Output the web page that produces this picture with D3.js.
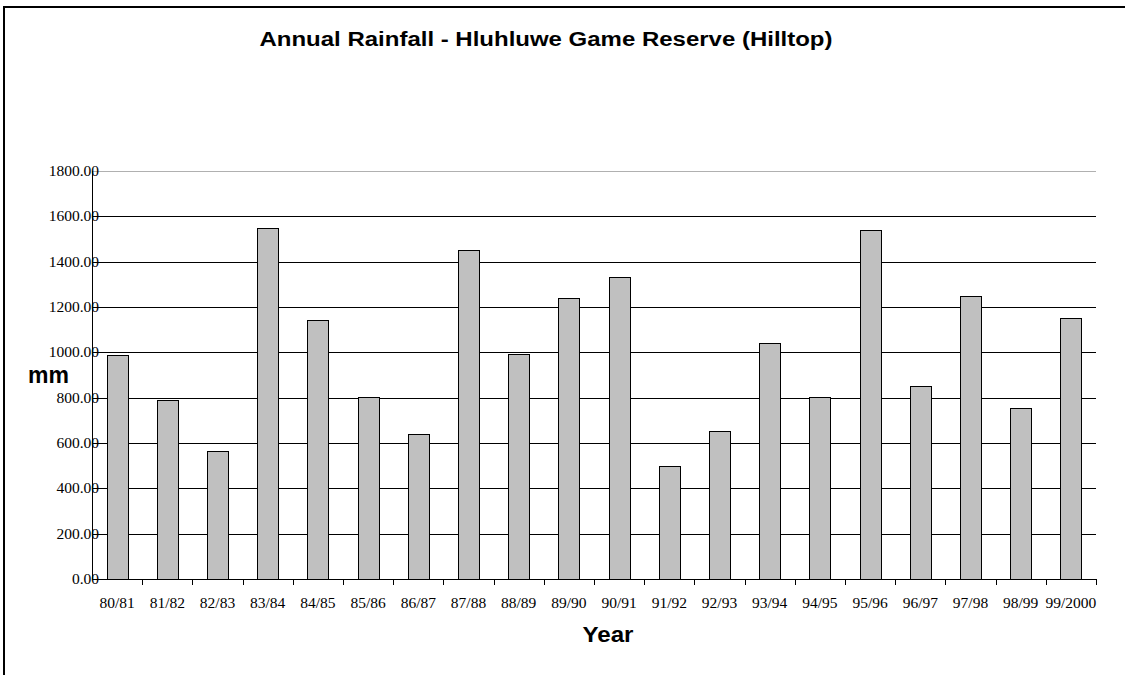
<!DOCTYPE html>
<html>
<head>
<meta charset="utf-8">
<script src="https://cdn.jsdelivr.net/npm/d3@7"></script>
<style>
  html, body { margin: 0; padding: 0; background: #fff; overflow: hidden; }
  svg { display: block; }
</style>
</head>
<body>
<svg id="chart" width="1125" height="675"></svg>
<script>
const categories = ["80/81","81/82","82/83","83/84","84/85","85/86","86/87","87/88","88/89","89/90",
                    "90/91","91/92","92/93","93/94","94/95","95/96","96/97","97/98","98/99","99/2000"];
const rainfall = [988, 790, 563, 1548, 1141, 801, 641, 1453, 993, 1238,
                  1331, 500, 654, 1043, 801, 1541, 850, 1250, 753, 1153];
const yTicks = [0, 200, 400, 600, 800, 1000, 1200, 1400, 1600, 1800];
const titleText = "Annual Rainfall - Hluhluwe Game Reserve (Hilltop)";
const xTitle = "Year";
const yTitle = "mm";

(function () {
const svg = d3.select("#chart");
const plotLeft = 92, plotRight = 1096, plotTop = 171, plotBottom = 579;

// outer frame
svg.append("rect").attr("x", 4).attr("y", 7).attr("width", 1200).attr("height", 800)
  .attr("fill", "none").attr("stroke", "#000").attr("stroke-width", 2);

const x = d3.scaleBand().domain(categories).range([plotLeft, plotRight])
  .paddingInner(0.58).paddingOuter(0.29);
const y = d3.scaleLinear().domain([0, 1800]).range([plotBottom, plotTop]);

// gridlines
svg.append("g").selectAll("line").data(yTicks.filter(d => d > 0)).join("line")
  .attr("x1", plotLeft).attr("x2", plotRight)
  .attr("y1", d => Math.round(y(d)) + 0.5).attr("y2", d => Math.round(y(d)) + 0.5)
  .attr("stroke", d => d === 1800 ? "#b0b0b0" : "#000").attr("stroke-width", 1);

// bars
svg.append("g").selectAll("rect").data(categories).join("rect")
  .attr("x", d => Math.round(x(d)) + 0.5)
  .attr("y", (d, i) => Math.round(y(rainfall[i])) + 0.5)
  .attr("width", Math.round(x.bandwidth()))
  .attr("height", (d, i) => Math.round(y(0)) - Math.round(y(rainfall[i])))
  .attr("fill", "#c0c0c0").attr("stroke", "#000").attr("stroke-width", 1);

// x axis line and ticks
const step = x.step();
svg.append("line").attr("x1", plotLeft).attr("x2", plotRight)
  .attr("y1", Math.round(y(0)) + 0.5).attr("y2", Math.round(y(0)) + 0.5)
  .attr("stroke", "#000").attr("stroke-width", 1);
svg.append("g").selectAll("line").data(d3.range(1, categories.length + 1)).join("line")
  .attr("x1", i => Math.round(plotLeft + i * step) + 0.5).attr("x2", i => Math.round(plotLeft + i * step) + 0.5)
  .attr("y1", Math.round(y(0))).attr("y2", Math.round(y(0)) + 6)
  .attr("stroke", "#000").attr("stroke-width", 1);

// y axis line
svg.append("line").attr("x1", plotLeft + 0.5).attr("x2", plotLeft + 0.5)
  .attr("y1", plotTop).attr("y2", plotBottom + 1)
  .attr("stroke", "#000").attr("stroke-width", 1);

// y tick labels
svg.append("g").selectAll("text").data(yTicks).join("text")
  .attr("x", 99).attr("y", d => y(d)).attr("dy", "0.33em")
  .attr("text-anchor", "end")
  .attr("font-family", "'Liberation Serif', 'Times New Roman', serif")
  .attr("font-size", "15.5px").attr("fill", "#000")
  .text(d => d3.format(".2f")(d));

// x tick labels
svg.append("g").selectAll("text").data(categories).join("text")
  .attr("x", d => x(d) + x.bandwidth() / 2).attr("y", 608)
  .attr("text-anchor", "middle")
  .attr("font-family", "'Liberation Serif', 'Times New Roman', serif")
  .attr("font-size", "15.5px").attr("fill", "#000")
  .text(d => d);

// title
svg.append("text").attr("x", 546).attr("y", 46).attr("text-anchor", "middle")
  .attr("font-family", "'Liberation Sans', Arial, sans-serif")
  .attr("font-weight", "bold").attr("font-size", "20px")
  .attr("textLength", 573).attr("lengthAdjust", "spacingAndGlyphs")
  .text(titleText);

// axis titles
svg.append("text").attr("x", 608).attr("y", 642).attr("text-anchor", "middle")
  .attr("font-family", "'Liberation Sans', Arial, sans-serif")
  .attr("font-weight", "bold").attr("font-size", "22px")
  .attr("textLength", 51).attr("lengthAdjust", "spacingAndGlyphs")
  .text(xTitle);
svg.append("text").attr("x", 28).attr("y", 383).attr("text-anchor", "start")
  .attr("font-family", "'Liberation Sans', Arial, sans-serif")
  .attr("font-weight", "bold").attr("font-size", "23px").text(yTitle);
})();
</script>
</body>
</html>
